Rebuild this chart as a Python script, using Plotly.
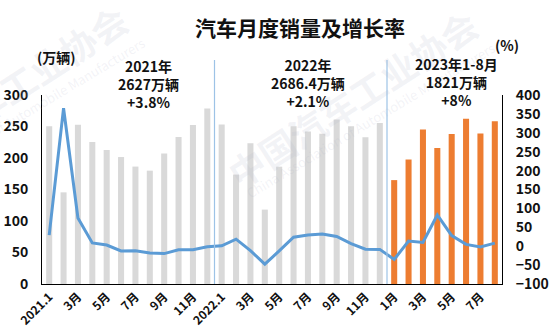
import plotly.graph_objects as go

# Monthly vehicle sales (10k units) and year-on-year growth (%)
months = [f"2021.{m}" for m in range(1, 13)] + [f"2022.{m}" for m in range(1, 13)] + [f"2023.{m}" for m in range(1, 9)]
sales_2021 = [250.3, 145.5, 252.6, 225.2, 212.8, 201.5, 186.4, 179.9, 207.1, 233.2, 252.2, 278.6]
sales_2022 = [253.1, 173.7, 223.4, 118.1, 186.2, 250.2, 242.0, 238.3, 261.0, 250.5, 232.9, 255.6]
sales_2023 = [164.9, 197.6, 245.1, 215.9, 238.2, 262.2, 238.7, 258.2]
growth = [29.5, 365.1, 74.9, 8.6, 3.1, -12.4, -11.9, -18.1, -19.6, -9.4, -9.1, -1.6,
          0.9, 18.7, -11.7, -47.6, -12.6, 23.8, 29.7, 32.1, 25.7, 6.9, -7.9, -8.4,
          -35.0, 13.5, 9.7, 82.7, 27.9, 4.8, -2.1, 8.2]

tick_months = ["2021.1", "2021.3", "2021.5", "2021.7", "2021.9", "2021.11",
               "2022.1", "2022.3", "2022.5", "2022.7", "2022.9", "2022.11",
               "2023.1", "2023.3", "2023.5", "2023.7"]
tick_text = ["2021.1", "3月", "5月", "7月", "9月", "11月",
             "2022.1", "3月", "5月", "7月", "9月", "11月",
             "1月", "3月", "5月", "7月"]

# Yearly summary labels
summaries = [
    ("2021年", "2627万辆", "+3.8%"),
    ("2022年", "2686.4万辆", "+2.1%"),
    ("2023年1-8月", "1821万辆", "+8%"),
]

sales = sales_2021 + sales_2022 + sales_2023
bar_colors = ["#d9d9d9"] * (len(sales_2021) + len(sales_2022)) + ["#ed7d31"] * len(sales_2023)

FONT = "Noto Sans CJK SC, Open Sans, sans-serif"
W, H = 550, 334
L, R, T, B = 42, 48, 95, 50

fig = go.Figure()
fig.add_trace(go.Bar(x=months, y=sales, marker=dict(color=bar_colors, line=dict(width=0)),
                     width=0.42, showlegend=False))
fig.add_trace(go.Scatter(x=months, y=growth, yaxis="y2", mode="lines",
                         line=dict(color="#5b9bd5", width=3), showlegend=False))

def px_x(x):
    return (x - L) / (W - L - R)

def px_y(y):
    return (H - B - y) / (H - T - B)

annotations = []

# Faint association watermark (drawn first so labels sit on top)
wm_color = "rgba(175,180,200,0.16)"
for cx, cy in [(352, 98), (2, 93)]:
    annotations.append(dict(text="<b>中国汽车工业协会</b>", x=px_x(cx), y=px_y(cy),
                            xref="paper", yref="paper", showarrow=False, textangle=-33,
                            xanchor="center", yanchor="middle",
                            font=dict(family=FONT, size=36, color=wm_color)))
    annotations.append(dict(text="China Association of Automobile Manufacturers",
                            x=px_x(cx + 18), y=px_y(cy + 22), xref="paper", yref="paper",
                            showarrow=False, textangle=-31, xanchor="center", yanchor="middle",
                            font=dict(family=FONT, size=13, color=wm_color)))

centers = [148, 308, 456]
mids = [84, 83, 82]
for cx, mid, lines in zip(centers, mids, summaries):
    annotations.append(dict(text="<br>".join(f"<b>{s}</b>" for s in lines),
                            x=px_x(cx), y=px_y(mid), xref="paper", yref="paper",
                            showarrow=False, xanchor="center", yanchor="middle", align="center",
                            font=dict(family=FONT, size=14, color="#111")))

annotations += [
    dict(text="<b>汽车月度销量及增长率</b>", x=px_x(300), y=px_y(27), xref="paper", yref="paper",
         showarrow=False, xanchor="center", yanchor="middle",
         font=dict(family=FONT, size=21, color="#111")),
    dict(text="<b>(万辆)</b>", x=px_x(56), y=px_y(57), xref="paper", yref="paper",
         showarrow=False, xanchor="center", yanchor="middle",
         font=dict(family=FONT, size=14, color="#111")),
    dict(text="<b>(%)</b>", x=px_x(507), y=px_y(45), xref="paper", yref="paper",
         showarrow=False, xanchor="center", yanchor="middle",
         font=dict(family=FONT, size=14, color="#111")),
]

# Year separators
shapes = []
for xpos in [11.5, 23.5]:
    shapes.append(dict(type="line", xref="x", yref="paper", x0=xpos, x1=xpos,
                       y0=0, y1=px_y(60), line=dict(color="#9dc3e6", width=1.2)))

fig.update_layout(
    width=W, height=H,
    margin=dict(l=L, r=R, t=T, b=B),
    paper_bgcolor="white", plot_bgcolor="white",
    annotations=annotations,
    shapes=shapes,
    xaxis=dict(type="category", tickmode="array", tickvals=tick_months,
               ticktext=[f"<b>{t}</b>" for t in tick_text], tickangle=-45,
               tickfont=dict(family=FONT, size=12, color="#111"),
               showline=True, linecolor="#000", linewidth=1, ticks="",
               showgrid=False, automargin=False, range=[-0.5, len(months) - 0.5]),
    yaxis=dict(range=[0, 300], dtick=50, showgrid=False, zeroline=False,
               showline=True, linecolor="#000", linewidth=1, ticks="",
               ticklabelstandoff=10, automargin=False,
               tickfont=dict(family=FONT, size=14, color="#111"),
               tickprefix="<b>", ticksuffix="</b>"),
    yaxis2=dict(range=[-100, 400], dtick=50, overlaying="y", side="right",
                showgrid=False, zeroline=False, showline=True, linecolor="#000",
                linewidth=1, ticks="", ticklabelstandoff=10, automargin=False,
                tickfont=dict(family=FONT, size=14, color="#111"),
                tickprefix="<b>", ticksuffix="</b>"),
)

fig.write_html("out.html")
